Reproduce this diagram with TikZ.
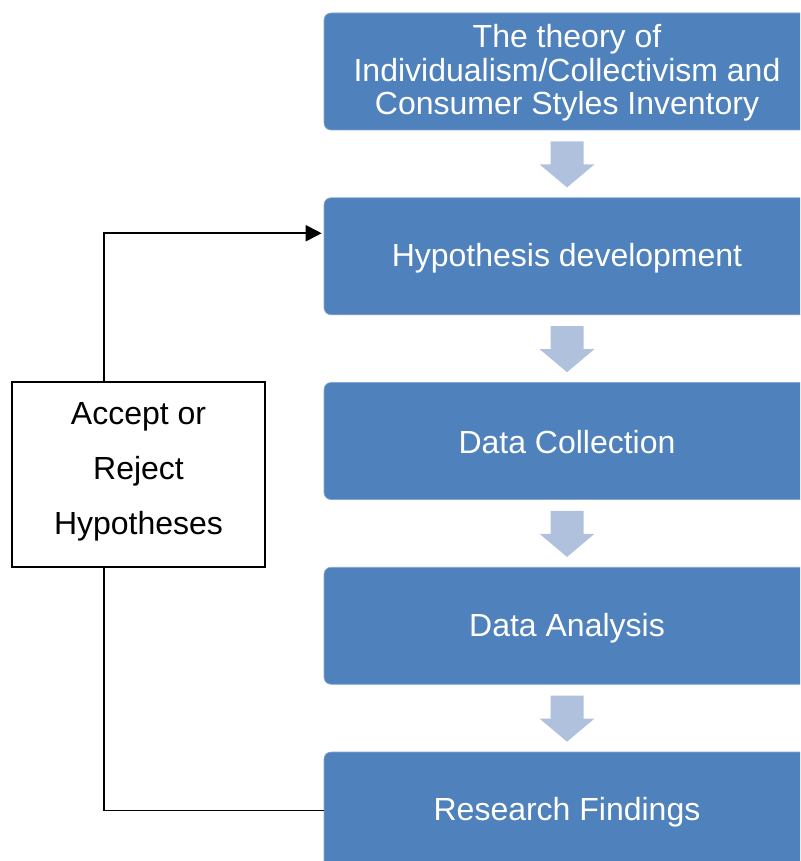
\documentclass[tikz,border=0pt]{standalone}
\usepackage{fontspec}
\setmainfont{Liberation Sans}
\usetikzlibrary{calc,arrows.meta}
\definecolor{boxblue}{HTML}{4F81BD}
\definecolor{arrblue}{HTML}{B0C1DE}
\begin{document}
\begin{tikzpicture}[x=1pt,y=-1pt,
  stage/.style={fill=boxblue, draw=boxblue!70!white, line width=0.6pt, rounded corners=7pt,
    minimum width=486pt, minimum height=117pt, inner sep=0pt},
  stagetext/.style={text=white, align=center, font=\fontsize{32}{33.5}\selectfont, inner sep=0pt},
  decide/.style={draw=black, line width=1.3pt, fill=white, minimum width=253pt, minimum height=185pt, inner sep=0pt},
  decidetext/.style={align=center, font=\fontsize{32}{55}\selectfont, inner sep=0pt},
  blockarrow/.style={fill=arrblue, draw=none},
  link/.style={draw=black, line width=1.8pt}
]
\useasboundingbox (0,0) rectangle (800,861);
\clip (0,0) rectangle (800,861);
\node[stage, label={[stagetext, yshift=-1.5pt]center:The theory of\\Individualism/Collectivism and\\Consumer Styles Inventory}] (b1) at (567,71.5) {};
\node[stage, label={[stagetext, yshift=-2pt]center:Hypothesis development}] (b2) at (567,256.25) {};
\node[stage, label={[stagetext, yshift=-1.5pt]center:Data Collection}] (b3) at (567,441) {};
\node[stage, label={[stagetext, yshift=-2pt]center:Data Analysis}] (b4) at (567,625.75) {};
\node[stage, label={[stagetext, yshift=-2pt]center:Research Findings}] (b5) at (567,810.5) {};
\node[decide, label={[decidetext, yshift=3pt]center:Accept or\\Reject\\Hypotheses}] (acc) at (138.5,474.5) {};
\coordinate (lx) at (104,0);
\foreach \a/\b in {b1/b2,b2/b3,b3/b4,b4/b5}{
  \path[blockarrow] ($(\a.south)+(-16.5,11)$) -- ($(\a.south)+(16.5,11)$) -- ($(\a.south)+(16.5,34)$)
    -- ($(\a.south)+(27.5,34)$) -- ($(\b.north)+(0,-10)$) -- ($(\a.south)+(-27.5,34)$)
    -- ($(\a.south)+(-16.5,34)$) -- cycle;
}
\draw[link,-{Triangle[length=16pt,width=16pt]}] (acc.north -| lx) |- ($(b2.west)+(-2,-23)$);
\draw[link] (acc.south -| lx) |- (b5.west);
\end{tikzpicture}
\end{document}
